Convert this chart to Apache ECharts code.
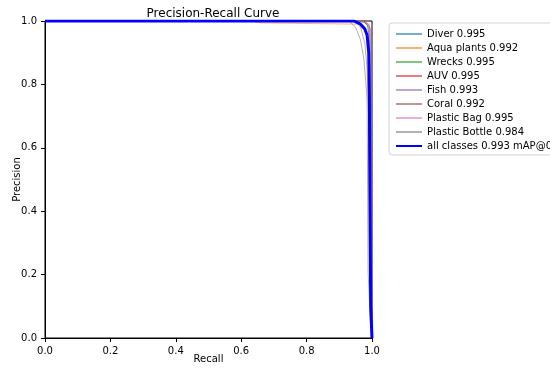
<!DOCTYPE html>
<html>
<head>
<meta charset="utf-8">
<script src="https://cdn.jsdelivr.net/npm/echarts@6/dist/echarts.min.js"></script>
<style>
html,body{margin:0;padding:0;background:#fff;}
#c{width:550px;height:370px;}
</style>
</head>
<body>
<div id="c"></div>
<script>
// Class names and their AP values
const classNames = ["Diver", "Aqua plants", "Wrecks", "AUV", "Fish", "Coral", "Plastic Bag", "Plastic Bottle"];
const classAP = [0.995, 0.992, 0.995, 0.995, 0.993, 0.992, 0.995, 0.984];
const allClassesMAP = 0.993;
const tickValues = [0.0, 0.2, 0.4, 0.6, 0.8, 1.0];

// Curves as [recall, precision] pairs
const diverCurve = [[0,1],[0.97,1],[0.985,0.99],[0.992,0.95],[0.996,0.6],[0.998,0.2],[1,0]];
const aquaCurve = [[0,1],[0.63,1],[0.635,0.994],[0.66,0.994],[0.663,0.99],[0.96,0.99],[0.975,0.985],[0.985,0.96],[0.99,0.9],[0.993,0.5],[0.996,0.1],[1,0]];
const wrecksCurve = [[0,1],[0.98,1],[0.993,0.98],[0.997,0.7],[0.999,0.2],[1,0]];
const auvCurve = [[0,1],[0.975,1],[0.99,0.98],[0.995,0.8],[0.998,0.3],[1,0]];
const fishCurve = [[0,1],[0.95,1],[0.965,0.98],[0.978,0.93],[0.985,0.85],[0.99,0.7],[0.993,0.3],[1,0]];
const coralCurve = [[0,1],[0.96,1],[0.99,0.99],[0.996,0.97],[0.998,0.5],[1,0]];
const plasticBagCurve = [[0,1],[0.97,1],[0.99,0.99],[0.995,0.9],[0.998,0.4],[1,0]];
const plasticBottleCurve = [[0,1],[0.93,1],[0.95,0.98],[0.965,0.94],[0.975,0.88],[0.98,0.82],[0.985,0.75],[0.987,0.4],[0.988,0.21],[0.995,0.05],[1,0]];
const allClassesCurve = [[0,1],[0.945,1],[0.965,0.99],[0.978,0.975],[0.985,0.955],[0.99,0.9],[0.992,0.75],[0.994,0.4],[0.996,0.1],[1,0]];

const classCurves = [diverCurve, aquaCurve, wrecksCurve, auvCurve, fishCurve, coralCurve, plasticBagCurve, plasticBottleCurve];
const colors = ["#1f77b4","#ff7f0e","#2ca02c","#d62728","#9467bd","#8c564b","#e377c2","#7f7f7f"];

const chart = echarts.init(document.getElementById('c'), null, {renderer:'canvas'});
const font = "DejaVu Sans";

const series = classCurves.map((d, i) => ({
  name: classNames[i] + " " + classAP[i].toFixed(3),
  type: 'line',
  data: d,
  symbol: 'none',
  clip: true,
  lineStyle: {width: 1, color: colors[i], opacity: 0.6},
  itemStyle: {color: colors[i], opacity: 0.6},
  emphasis: {disabled: true},
  animation: false
}));
series.push({
  name: "all classes " + allClassesMAP.toFixed(3) + " mAP@0.5",
  type: 'line',
  data: allClassesCurve,
  symbol: 'none',
  clip: true,
  lineStyle: {width: 3, color: '#0000ff'},
  itemStyle: {color: '#0000ff'},
  emphasis: {disabled: true},
  animation: false
});

const axisCommon = {
  type: 'value', min: 0, max: 1, interval: 0.2,
  axisLine: {show: true, lineStyle: {color: '#000', width: 1}},
  axisTick: {show: true, length: 4, lineStyle: {color: '#000'}},
  axisLabel: {color: '#000', fontFamily: font, fontSize: 10, formatter: v => v.toFixed(1)},
  splitLine: {show: false},
  nameMoveOverlap: false,
  nameTextStyle: {color: '#000', fontFamily: font, fontSize: 10}
};

chart.setOption({
  animation: false,
  backgroundColor: '#fff',
  title: {
    text: 'Precision-Recall Curve',
    left: 208, top: 3, textAlign: 'center',
    textStyle: {fontFamily: font, fontSize: 12, fontWeight: 'normal', color: '#000'}
  },
  grid: {left: 45, top: 21, width: 327, height: 317, show: true, borderColor: '#000', borderWidth: 1, containLabel: false, outerBoundsMode: 'none'},
  xAxis: Object.assign({}, axisCommon, {name: 'Recall', nameLocation: 'middle', nameGap: 16}),
  yAxis: Object.assign({}, axisCommon, {name: 'Precision', nameLocation: 'middle', nameGap: 23}),
  legend: {
    orient: 'vertical',
    left: 389, top: 23,
    itemWidth: 26, itemHeight: 10, itemGap: 4,
    padding: [6, 8, 4, 6],
    borderColor: '#d5d5d5', borderWidth: 1, borderRadius: 3,
    textStyle: {fontFamily: font, fontSize: 10, color: '#000'},
    itemStyle: {opacity: 0},
    selectedMode: false
  },
  series: series
});
</script>
</body>
</html>
